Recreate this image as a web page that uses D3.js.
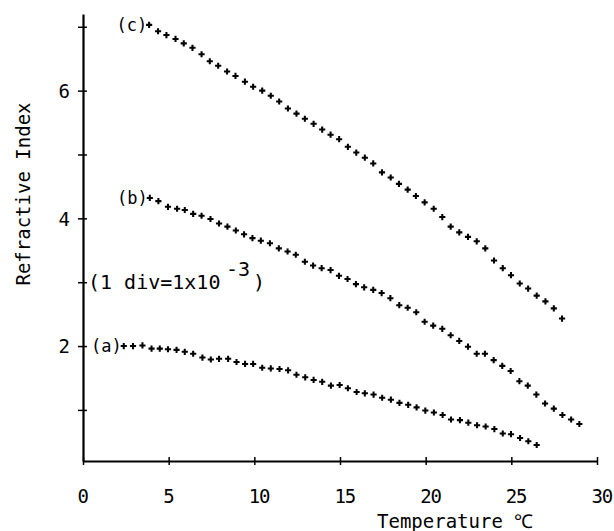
<!DOCTYPE html>
<html lang="en">
<head>
    <meta charset="UTF-8">
    <title>Refractive index vs temperature</title>
    <script src="https://d3js.org/d3.v7.min.js"></script>
    <style>
        body { margin: 0; background: #fff; }
        text { font-family: "DejaVu Sans Mono", monospace; fill: #000; }
    </style>
</head>
<body>
<svg width="614" height="531"></svg>

<script>
    // values (temperature in degC, refractive index in 1e-3 divisions)
    const tempA = [2.38, 2.92, 3.47, 4.00, 4.48, 4.96, 5.46, 5.94, 6.43, 6.97, 7.46, 7.94, 8.47, 8.96, 9.46, 9.93,
        10.46, 10.96, 11.47, 11.97, 12.46, 12.97, 13.46, 13.96, 14.47, 14.98, 15.46, 15.97, 16.45, 16.96, 17.46,
        17.97, 18.47, 18.98, 19.47, 19.98, 20.48, 20.99, 21.48, 22.00, 22.49, 23.00, 23.50, 24.01, 24.50, 24.98,
        25.51, 25.99, 26.48];
    const indexA = [2.00, 2.00, 2.01, 1.96, 1.96, 1.95, 1.94, 1.91, 1.88, 1.82, 1.79, 1.80, 1.80, 1.75, 1.72, 1.72,
        1.66, 1.65, 1.64, 1.62, 1.55, 1.51, 1.47, 1.44, 1.38, 1.39, 1.34, 1.28, 1.26, 1.24, 1.19, 1.16, 1.11, 1.08,
        1.04, 0.99, 0.96, 0.92, 0.85, 0.84, 0.80, 0.76, 0.74, 0.70, 0.63, 0.62, 0.56, 0.51, 0.45];

    const tempB = [3.90, 4.40, 4.96, 5.49, 5.94, 6.43, 6.92, 7.44, 7.94, 8.43, 8.92, 9.40, 9.89, 10.38, 10.91,
        11.43, 11.94, 12.42, 12.95, 13.43, 13.93, 14.45, 14.94, 15.44, 15.93, 16.41, 16.94, 17.43, 17.94, 18.46,
        18.95, 19.45, 19.94, 20.44, 20.97, 21.46, 21.96, 22.47, 22.98, 23.46, 23.97, 24.47, 24.96, 25.47, 25.96,
        26.46, 26.97, 27.48, 27.98, 28.49, 28.97];
    const indexB = [4.32, 4.27, 4.18, 4.15, 4.13, 4.07, 4.04, 3.99, 3.92, 3.87, 3.81, 3.75, 3.69, 3.65, 3.61,
        3.53, 3.48, 3.43, 3.32, 3.26, 3.22, 3.19, 3.10, 3.05, 2.97, 2.92, 2.88, 2.83, 2.75, 2.64, 2.60, 2.53, 2.38,
        2.32, 2.27, 2.17, 2.08, 1.99, 1.88, 1.88, 1.78, 1.69, 1.61, 1.45, 1.38, 1.24, 1.10, 1.02, 0.92, 0.85, 0.78];

    const tempC = [3.86, 4.38, 4.87, 5.40, 5.88, 6.39, 6.92, 7.40, 7.89, 8.41, 8.90, 9.45, 9.93, 10.46, 10.96,
        11.45, 11.96, 12.46, 12.95, 13.46, 13.96, 14.45, 14.95, 15.46, 15.95, 16.45, 16.94, 17.45, 17.96, 18.44,
        18.95, 19.43, 19.94, 20.47, 20.97, 21.46, 21.96, 22.47, 22.98, 23.48, 23.99, 24.50, 24.98, 25.49, 25.98,
        26.48, 26.99, 27.48, 27.96];
    const indexC = [7.03, 6.93, 6.87, 6.81, 6.74, 6.67, 6.57, 6.46, 6.39, 6.30, 6.23, 6.14, 6.06, 6.00, 5.92,
        5.83, 5.72, 5.64, 5.56, 5.48, 5.39, 5.31, 5.24, 5.12, 5.03, 4.95, 4.86, 4.72, 4.64, 4.54, 4.45, 4.35, 4.25,
        4.15, 4.02, 3.87, 3.78, 3.71, 3.64, 3.53, 3.34, 3.22, 3.11, 2.98, 2.90, 2.79, 2.70, 2.59, 2.43];

    const seriesNames = ["(a)", "(b)", "(c)"];
    const xTicks = [0, 5, 10, 15, 20, 25, 30];
    const yTicks = [1, 2, 3, 4, 5, 6, 7];
    const yLabelled = [2, 4, 6];

    const series = [
        {name: seriesNames[0], t: tempA, v: indexA},
        {name: seriesNames[1], t: tempB, v: indexB},
        {name: seriesNames[2], t: tempC, v: indexC}
    ];

    let svg = d3.select("svg");

    const x = d3.scaleLinear().domain([0, 30]).range([83, 597]);
    const y = d3.scaleLinear().domain([0.2, 7.2]).range([461, 14]);

    // x axis, ticks cross the line
    let gx = svg.append("g")
        .attr("transform", "translate(0," + y(0.2) + ")")
        .call(d3.axisBottom(x).tickValues(xTicks).tickSizeInner(4).tickSizeOuter(0).tickFormat(d3.format("d")));
    gx.select(".domain").attr("stroke", "#000").attr("stroke-width", 2);
    gx.selectAll(".tick line").attr("y1", -4).attr("y2", 4).attr("stroke-width", 1.5);
    gx.selectAll(".tick text")
        .attr("y", 42).attr("dy", 0).attr("x", -6)
        .attr("text-anchor", "start")
        .style("letter-spacing", "-1.2px")
        .style("font-family", "DejaVu Sans Mono").style("font-size", "19px");

    // y axis
    let gy = svg.append("g")
        .attr("transform", "translate(" + x(0) + ",0)")
        .call(d3.axisLeft(y).tickValues(yTicks).tickSizeInner(4).tickSizeOuter(0)
            .tickFormat(d => yLabelled.includes(d) ? d : ""));
    gy.select(".domain").attr("stroke", "#000").attr("stroke-width", 2.2);
    gy.selectAll(".tick line").attr("x1", 4).attr("x2", -5).attr("stroke-width", 1.5);
    gy.selectAll(".tick text")
        .attr("x", -13).attr("dy", "0.36em")
        .attr("text-anchor", "end")
        .style("font-family", "DejaVu Sans Mono").style("font-size", "19px");

    // axis titles
    svg.append("text")
        .attr("x", 377).attr("y", 528)
        .style("font-size", "19px")
        .text("Temperature ℃");

    svg.append("text")
        .attr("transform", "translate(30," + 194 + ") rotate(-90)")
        .attr("text-anchor", "middle")
        .style("font-size", "19px")
        .text("Refractive Index");

    // points
    const cross = d3.symbol().type(d3.symbolCross).size(21);
    series.forEach(function (s) {
        let pts = s.t.map((t, i) => [t, s.v[i]]);
        svg.append("g").selectAll("path")
            .data(pts)
            .enter()
            .append("path")
            .attr("d", cross)
            .attr("transform", d => "translate(" + x(d[0]) + "," + y(d[1]) + ")")
            .attr("fill", "#000");

        // series tag sits just left of the first point
        svg.append("text")
            .attr("x", x(s.t[0]) - 2)
            .attr("y", y(s.v[0]) + 6)
            .attr("text-anchor", "end")
            .style("font-size", "17px")
            .text(s.name);
    });

    // division note at the y=3 tick
    let noteY = y(3) + 7;
    svg.append("text")
        .attr("x", x(0) + 5).attr("y", noteY)
        .style("font-size", "20px")
        .text("(1 div=1x10");
    svg.append("text")
        .attr("x", x(0) + 143).attr("y", noteY - 13)
        .style("font-size", "20px")
        .text("-3");
    svg.append("text")
        .attr("x", x(0) + 170).attr("y", noteY)
        .style("font-size", "20px")
        .text(")");
</script>
</body>
</html>
